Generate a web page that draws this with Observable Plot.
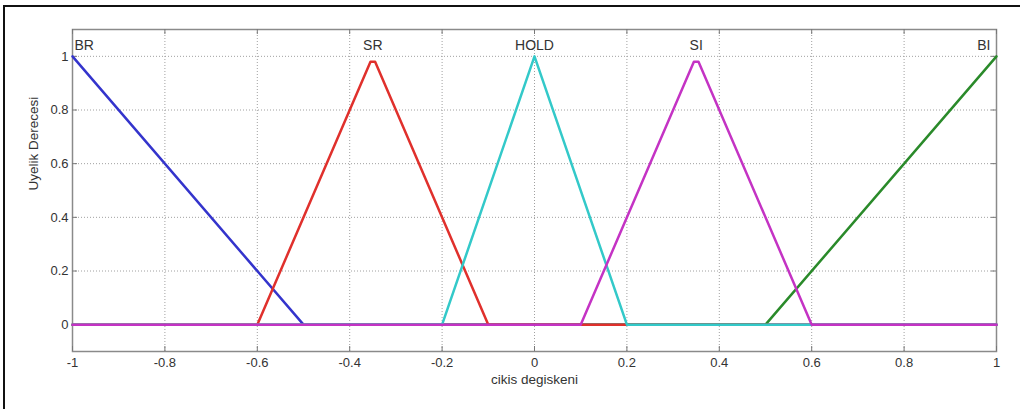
<!DOCTYPE html>
<html>
<head>
<meta charset="utf-8">
<script src="https://cdn.jsdelivr.net/npm/d3@7"></script>
<script src="https://cdn.jsdelivr.net/npm/@observablehq/plot@0.6"></script>
<style>
  html, body { margin: 0; padding: 0; background: #fff; }
  #wrap { position: relative; width: 1020px; height: 409px; overflow: hidden; }
  #wrap svg { position: absolute; left: 0; top: 0; }
  #border { position: absolute; left: 3px; top: 5px; right: -5px; bottom: -5px;
            border-left: 2px solid #111; border-top: 2px solid #111; pointer-events: none; }
</style>
</head>
<body>
<div id="wrap"><div id="border"></div></div>
<script>
// Membership function names, colours and vertices (x, degree)
const mfNames = ["BR", "BI", "SR", "HOLD", "SI"];
const mfColors = ["#3434cc", "#2a8a2a", "#e0302c", "#33c9c9", "#c433c4"];
const brX = [-1, -0.5, 1];                 const brY = [1, 0, 0];
const biX = [-1, 0.5, 1];                  const biY = [0, 0, 1];
const srX = [-1, -0.6, -0.355, -0.345, -0.1, 1];   const srY = [0, 0, 0.98, 0.98, 0, 0];
const holdX = [-1, -0.2, 0, 0.2, 1];      const holdY = [0, 0, 1, 0, 0];
const siX = [-1, 0.1, 0.345, 0.355, 0.6, 1];       const siY = [0, 0, 0.98, 0.98, 0, 0];
const mfXs = [brX, biX, srX, holdX, siX];
const mfYs = [brY, biY, srY, holdY, siY];

// Label positions (name, x, y)
const labelNames = ["BR", "SR", "HOLD", "SI", "BI"];
const labelX = [-1, -0.35, 0, 0.35, 1];
const labelY = [1.04, 1.04, 1.04, 1.04, 1.04];

// Ticks
const xTicks = [-1, -0.8, -0.6, -0.4, -0.2, 0, 0.2, 0.4, 0.6, 0.8, 1];
const xTickLabels = ["-1", "-0.8", "-0.6", "-0.4", "-0.2", "0", "0.2", "0.4", "0.6", "0.8", "1"];
const yTicks = [0, 0.2, 0.4, 0.6, 0.8, 1];
const yTickLabels = ["0", "0.2", "0.4", "0.6", "0.8", "1"];

const W = 1020, H = 409;
const mL = 72, mR = 24, mT = 29, mB = 58;
const pw = W - mL - mR, ph = H - mT - mB;

const rows = [];
mfNames.forEach((name, k) => {
  mfXs[k].forEach((x, i) => rows.push({mf: name, x, y: mfYs[k][i]}));
});
const labels = labelNames.map((n, i) => ({n, x: labelX[i], y: labelY[i]}));

const font = "Liberation Sans, Arial, Helvetica, sans-serif";

const chart = Plot.plot({
  width: W, height: H,
  marginLeft: mL, marginRight: mR, marginTop: mT, marginBottom: mB,
  style: {fontFamily: font, fontSize: "13px", background: "transparent", color: "#333"},
  x: {domain: [-1, 1]},
  y: {domain: [-0.1, 1.1]},
  marks: [
    Plot.gridX(xTicks.slice(1, -1), {stroke: "#a0a0a0", strokeOpacity: 1, strokeDasharray: "1,2"}),
    Plot.gridY(yTicks, {stroke: "#a0a0a0", strokeOpacity: 1, strokeDasharray: "1,2"}),
    Plot.frame({stroke: "#8a8a8a", strokeWidth: 1.5}),
    Plot.tickX(xTicks, {x: d => d, insetTop: ph - 5, stroke: "#777"}),
    Plot.tickX(xTicks, {x: d => d, insetBottom: ph - 5, stroke: "#777"}),
    Plot.tickY(yTicks, {y: d => d, insetRight: pw - 5, stroke: "#777"}),
    Plot.tickY(yTicks, {y: d => d, insetLeft: pw - 5, stroke: "#777"}),
    Plot.axisX(xTicks, {tickSize: 0, tickPadding: 6, tickFormat: d => xTickLabels[xTicks.indexOf(d)], label: null, fill: "#333", fontSize: 13}),
    Plot.axisY(yTicks, {tickSize: 0, tickPadding: 4, tickFormat: d => yTickLabels[yTicks.indexOf(d)], label: null, fill: "#333", fontSize: 13}),
    ...mfNames.map((name, k) =>
      Plot.line(rows.filter(r => r.mf === name), {x: "x", y: "y", stroke: mfColors[k], strokeWidth: 2.5})
    ),
    Plot.text(labels.filter(d => d.n === "BR"), {x: "x", y: "y", text: "n", textAnchor: "start", dx: 2, fontSize: 14, fill: "#333"}),
    Plot.text(labels.filter(d => d.n === "BI"), {x: "x", y: "y", text: "n", textAnchor: "end", dx: -6, fontSize: 14, fill: "#333"}),
    Plot.text(labels.filter(d => d.n !== "BR" && d.n !== "BI"), {x: "x", y: "y", text: "n", textAnchor: "middle", fontSize: 14, fill: "#333"}),
    Plot.text(["cikis degiskeni"], {frameAnchor: "bottom", dy: 32, fontSize: 13.5, fill: "#333"}),
    Plot.text(["Uyelik Derecesi"], {frameAnchor: "left", dx: -39, rotate: -90, fontSize: 13.5, fill: "#333"})
  ]
});
document.getElementById("wrap").insertBefore(chart, document.getElementById("border"));
</script>
</body>
</html>
